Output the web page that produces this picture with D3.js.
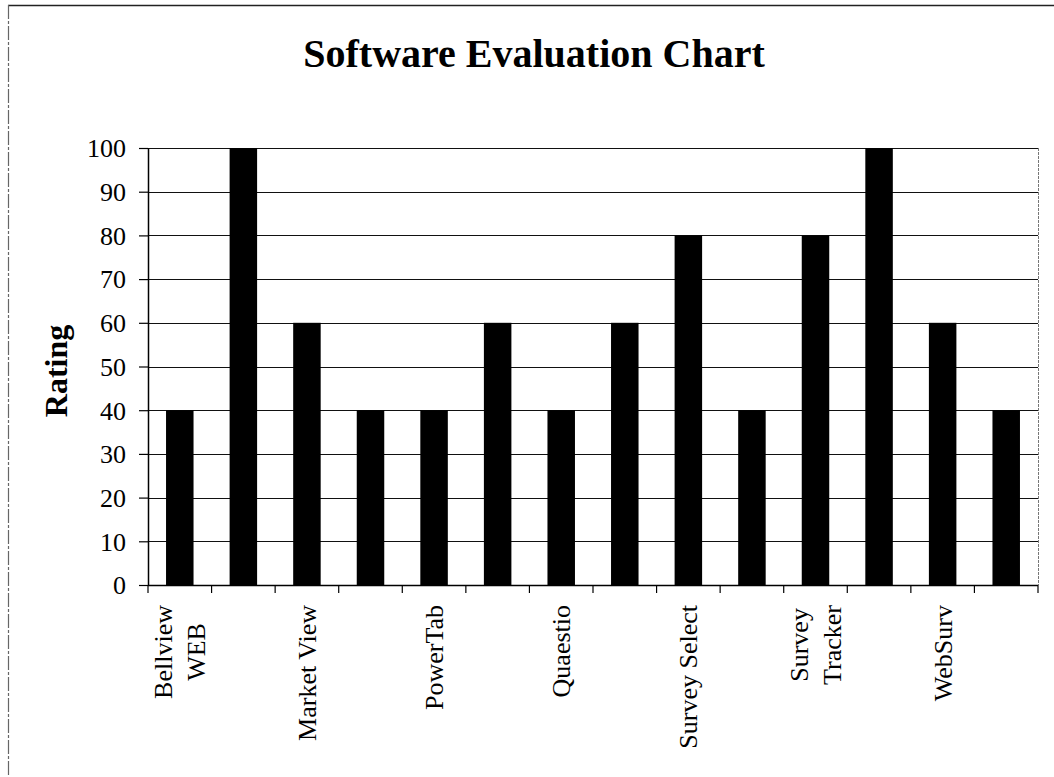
<!DOCTYPE html>
<html><head><meta charset="utf-8">
<script src="https://cdn.jsdelivr.net/npm/d3@7"></script>
<style>html,body{margin:0;padding:0;background:#fff;}svg{display:block;}</style>
</head><body>
<svg id="c" width="1054" height="777"></svg>
<script>
const title = "Software Evaluation Chart";
const yTitle = "Rating";
// Category labels as shown (alternate labels are hidden in the original)
const categoryLabels = ["Bellview WEB","","Market View","","PowerTab","","Quaestio","","Survey Select","","Survey Tracker","","WebSurv",""];
// Label line breaks as drawn
const labelLines = [["Bellview","WEB"],[],["Market View"],[],["PowerTab"],[],["Quaestio"],[],["Survey Select"],[],["Survey","Tracker"],[],["WebSurv"],[]];
const ratings = [40,100,60,40,40,60,40,60,80,40,80,100,60,40];
const yTicks = [0,10,20,30,40,50,60,70,80,90,100];

const svg = d3.select("#c");
const L = 148, R = 1038, T = 148, B = 585;
const font = "'Liberation Serif','Times New Roman',serif";

// outer frame
svg.append("line").attr("x1",8).attr("x2",1054).attr("y1",5.5).attr("y2",5.5).attr("stroke","#222").attr("stroke-width",1.5);
svg.append("line").attr("x1",8.5).attr("x2",8.5).attr("y1",5).attr("y2",777).attr("stroke","#666").attr("stroke-width",1.2).attr("stroke-dasharray","14,2,3,2");

const x = d3.scaleBand().domain(d3.range(ratings.length)).range([L,R]).padding(0);
const y = d3.scaleLinear().domain([0,100]).range([B,T]);
const step = x.step();
const bw = 27.5;

// gridlines
svg.append("g").selectAll("line").data(yTicks.filter(d=>d>0)).join("line")
  .attr("x1",L).attr("x2",R).attr("y1",d=>Math.round(y(d))+0.5).attr("y2",d=>Math.round(y(d))+0.5)
  .attr("stroke","#111").attr("stroke-width",1.2);
// right border
svg.append("line").attr("x1",R+0.5).attr("x2",R+0.5).attr("y1",T).attr("y2",B).attr("stroke","#777").attr("stroke-dasharray","3,1");

// bars
svg.append("g").selectAll("rect").data(ratings).join("rect")
  .attr("x",(d,i)=>x(i)+(step-bw)/2).attr("width",bw)
  .attr("y",d=>y(d)).attr("height",d=>B-y(d)).attr("fill","#000");

// y axis
const ya = svg.append("g").attr("transform",`translate(${L},0)`)
  .call(d3.axisLeft(y).tickValues(yTicks).tickSize(9).tickPadding(13).tickSizeOuter(0));
ya.select(".domain").attr("stroke","#000").attr("stroke-width",1.5);
ya.selectAll(".tick line").attr("stroke","#000").attr("stroke-width",1.2);
ya.selectAll(".tick text").attr("font-family",font).attr("font-size",26).attr("fill","#000").attr("dy","0.34em");

// x axis line and ticks at boundaries
svg.append("line").attr("x1",L).attr("x2",R).attr("y1",B+0.5).attr("y2",B+0.5).attr("stroke","#000").attr("stroke-width",1.5);
svg.append("g").selectAll("line").data(d3.range(ratings.length+1)).join("line")
  .attr("x1",i=>L+i*step).attr("x2",i=>L+i*step).attr("y1",B).attr("y2",B+8)
  .attr("stroke","#000").attr("stroke-width",1.2);

// x labels (rotated)
const lineGap = 33, topY = 605;
labelLines.forEach((lines,i)=>{
  if(!lines.length) return;
  const cx = x(i)+step/2;
  const n = lines.length;
  const g = svg.append("g");
  const texts = lines.map((s,k)=>{
    const base = cx + 9 + (k-(n-1)/2)*lineGap;
    return g.append("text").attr("font-family",font).attr("font-size",26).attr("fill","#000")
      .attr("text-anchor","middle").text(s).datum(base);
  });
  const maxW = d3.max(texts, t=>t.node().getComputedTextLength());
  const cy = topY + maxW/2;
  texts.forEach(t=>{
    const base = t.datum();
    t.attr("transform",`translate(${base},${cy}) rotate(-90)`);
  });
});

// title
svg.append("text").attr("x",534).attr("y",67).attr("text-anchor","middle")
  .attr("font-family",font).attr("font-weight","bold").attr("font-size",40).attr("fill","#000").text(title);

// y title
svg.append("text").attr("transform","translate(67,371) rotate(-90)").attr("text-anchor","middle")
  .attr("font-family",font).attr("font-weight","bold").attr("font-size",32).attr("fill","#000").text(yTitle);
</script>
</body></html>
